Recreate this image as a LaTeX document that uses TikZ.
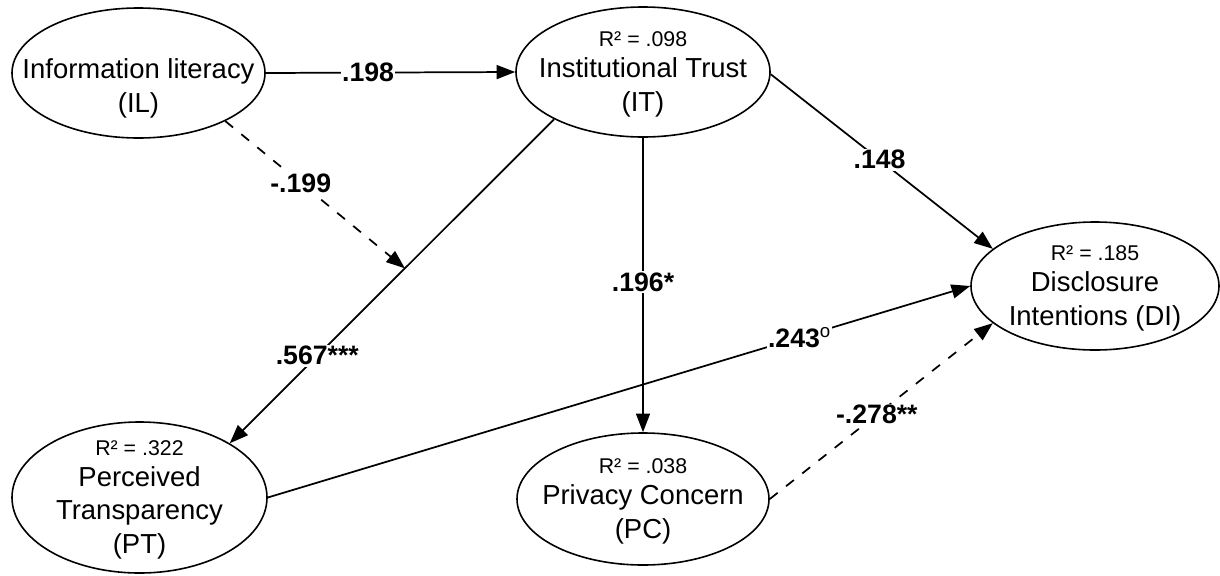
\documentclass[tikz,border=0pt]{standalone}
\usepackage{fontspec}
\setmainfont{Liberation Sans}
\usetikzlibrary{shapes.geometric,arrows.meta}
% ellipse of half-axes #1 x #2 (in picture units)
\tikzset{
  ell/.style 2 args={ellipse, draw, line width=1.2pt, inner sep=0pt,
    minimum width=#1*1.5pt, minimum height=#2*1.5pt},
  txt/.style={align=center, inner sep=0pt, yshift=-1.8pt,
    font=\fontsize{20.6}{25.2}\selectfont},
  conn/.style={line width=1.3pt, -{Triangle[length=14pt,width=10.5pt]}},
  dashconn/.style={conn, dash pattern=on 7.5pt off 8pt},
  coef/.style={fill=white, inner sep=1pt, font=\fontsize{20}{24}\selectfont\bfseries},
}
% small first line of a construct (explained variance)
\newcommand{\rsqline}[1]{{\fontsize{16}{19}\selectfont #1}\\[-2.3pt]}
\begin{document}
\begin{tikzpicture}[x=0.75pt,y=-0.75pt]
\useasboundingbox (0,0) rectangle (1220,575);

% constructs
\node[ell={126.5}{65}]   (IL) at (138.5,73)   {};
\node[ell={127}{65}]     (IT) at (643,72)     {};
\node[ell={124}{64}]     (DI) at (1095,286)   {};
\node[ell={127.5}{75.5}] (PT) at (139.5,497.5) {};
\node[ell={126}{66}]     (PC) at (643,499)    {};

\node[txt] (ILt) at (IL.center) {\rsqline{\phantom{R² = .000}}Information literacy\\(IL)};
\node[txt] (ITt) at (IT.center) {\rsqline{R² = .098}Institutional Trust\\(IT)};
\node[txt] (DIt) at (DI.center) {\rsqline{R² = .185}Disclosure\\Intentions (DI)};
\node[txt] (PTt) at (PT.center) {\rsqline{R² = .322}Perceived\\Transparency\\(PT)};
\node[txt] (PCt) at (PC.center) {\rsqline{R² = .038}Privacy Concern\\(PC)};

% paths with coefficients
\draw[conn] (IL.east) -- node[coef,pos=0.41]{.198} (IT.west);
\draw[conn] (IT.208) -- node[coef,pos=0.73]{.567***} coordinate[pos=0.46] (mod) (PT.31);
\draw[dashconn] (IL.-29) -- node[coef,pos=0.42]{-.199} (mod);
\draw[conn] (IT.south) -- node[coef,pos=0.49]{.196*} (PC.north);
\draw[conn] (IT.-1) -- node[coef,pos=0.49]{.148} (DI.160);
\draw[conn] (PT.east) -- node[coef,pos=0.757]{.243\textsuperscript{\normalfont o}} (DI.west);
\draw[dashconn] (PC.east) -- node[coef,pos=0.48]{-.278**} (DI.200);
\end{tikzpicture}
\end{document}
